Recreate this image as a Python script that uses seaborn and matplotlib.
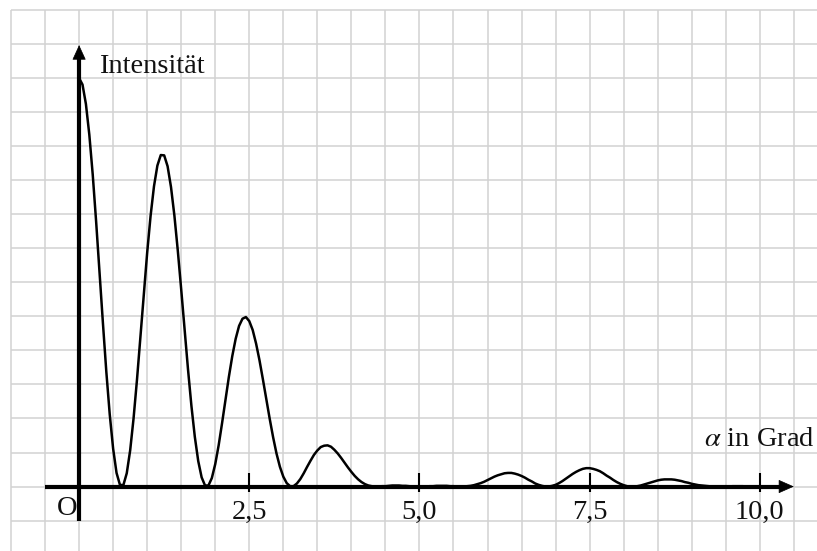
import matplotlib
matplotlib.use("Agg")
import matplotlib.pyplot as plt
import seaborn as sns
import pandas as pd

# ---- data ----
alpha_deg = [
    0.0, 0.05, 0.1, 0.15, 0.2, 0.25, 0.3, 0.35, 0.4, 0.45,
    0.5, 0.55, 0.6, 0.65, 0.7, 0.75, 0.8, 0.85, 0.9, 0.95,
    1.0, 1.05, 1.1, 1.15, 1.2, 1.25, 1.3, 1.35, 1.4, 1.45,
    1.5, 1.55, 1.6, 1.65, 1.7, 1.75, 1.8, 1.85, 1.9, 1.95,
    2.0, 2.05, 2.1, 2.15, 2.2, 2.25, 2.3, 2.35, 2.4, 2.45,
    2.5, 2.55, 2.6, 2.65, 2.7, 2.75, 2.8, 2.85, 2.9, 2.95,
    3.0, 3.05, 3.1, 3.15, 3.2, 3.25, 3.3, 3.35, 3.4, 3.45,
    3.5, 3.55, 3.6, 3.65, 3.7, 3.75, 3.8, 3.85, 3.9, 3.95,
    4.0, 4.05, 4.1, 4.15, 4.2, 4.25, 4.3, 4.35, 4.4, 4.45,
    4.5, 4.55, 4.6, 4.65, 4.7, 4.75, 4.8, 4.85, 4.9, 4.95,
    5.0, 5.05, 5.1, 5.15, 5.2, 5.25, 5.3, 5.35, 5.4, 5.45,
    5.5, 5.55, 5.6, 5.65, 5.7, 5.75, 5.8, 5.85, 5.9, 5.95,
    6.0, 6.05, 6.1, 6.15, 6.2, 6.25, 6.3, 6.35, 6.4, 6.45,
    6.5, 6.55, 6.6, 6.65, 6.7, 6.75, 6.8, 6.85, 6.9, 6.95,
    7.0, 7.05, 7.1, 7.15, 7.2, 7.25, 7.3, 7.35, 7.4, 7.45,
    7.5, 7.55, 7.6, 7.65, 7.7, 7.75, 7.8, 7.85, 7.9, 7.95,
    8.0, 8.05, 8.1, 8.15, 8.2, 8.25, 8.3, 8.35, 8.4, 8.45,
    8.5, 8.55, 8.6, 8.65, 8.7, 8.75, 8.8, 8.85, 8.9, 8.95,
    9.0, 9.05, 9.1, 9.15, 9.2, 9.25, 9.3, 9.35, 9.4, 9.45,
    9.5, 9.55, 9.6, 9.65, 9.7, 9.75, 9.8, 9.85, 9.9, 9.95,
    10.0,
]
intensity = [
    12, 11.81, 11.24, 10.34, 9.17, 7.79, 6.3, 4.8, 3.37, 2.12,
    1.11, 0.4, 0.05, 0.04, 0.39, 1.06, 2, 3.13, 4.38, 5.65,
    6.87, 7.95, 8.82, 9.43, 9.74, 9.73, 9.41, 8.8, 7.96, 6.93,
    5.79, 4.6, 3.44, 2.37, 1.46, 0.75, 0.27, 0.03, 0.03, 0.25,
    0.66, 1.21, 1.86, 2.54, 3.22, 3.83, 4.34, 4.72, 4.93, 4.98,
    4.86, 4.6, 4.2, 3.71, 3.15, 2.57, 1.99, 1.45, 0.97, 0.58,
    0.29, 0.1, 0.01, 0.01, 0.09, 0.22, 0.39, 0.58, 0.76, 0.93,
    1.06, 1.16, 1.2, 1.21, 1.17, 1.08, 0.97, 0.84, 0.7, 0.56,
    0.43, 0.31, 0.21, 0.13, 0.07, 0.03, 0.01, 0, 0, 0.01,
    0.01, 0.02, 0.03, 0.03, 0.03, 0.02, 0.02, 0.01, 0, 0,
    0, 0, 0, 0.01, 0.01, 0.02, 0.02, 0.02, 0.02, 0.01,
    0.01, 0, 0, 0, 0.01, 0.02, 0.04, 0.07, 0.1, 0.14,
    0.19, 0.24, 0.29, 0.33, 0.36, 0.39, 0.4, 0.4, 0.38, 0.35,
    0.31, 0.26, 0.2, 0.15, 0.09, 0.05, 0.02, 0, 0, 0.02,
    0.05, 0.1, 0.16, 0.23, 0.3, 0.37, 0.43, 0.48, 0.52, 0.54,
    0.54, 0.52, 0.49, 0.45, 0.39, 0.32, 0.26, 0.19, 0.13, 0.08,
    0.04, 0.01, 0, 0, 0.01, 0.03, 0.06, 0.09, 0.12, 0.15,
    0.18, 0.2, 0.21, 0.21, 0.21, 0.2, 0.18, 0.16, 0.13, 0.11,
    0.08, 0.06, 0.04, 0.03, 0.02, 0.01, 0, 0, 0, 0,
    0, 0, 0.01, 0.01, 0.01, 0.01, 0, 0, 0, 0,
    0,
]
tick_values = [2.5, 5.0, 7.5, 10.0]
tick_labels = ["2,5", "5,0", "7,5", "10,0"]
y_label = "Intensität"
x_label = r"$\alpha$ in Grad"
origin_label = "O"

# ---- style ----
sns.set_theme(style="white")
plt.rcParams["font.family"] = ["Liberation Serif", "DejaVu Serif"]
plt.rcParams["mathtext.fontset"] = "stix"

fig = plt.figure(figsize=(8.17, 5.51), dpi=100)
ax = fig.add_axes([0, 0, 1, 1])
ax.set_xlim(-1.162, 10.84)
ax.set_ylim(-1.894, 14.295)
ax.axis("off")

grid_col = "#d2d2d2"
# squared paper: 0.5 deg per square horizontally, 1 unit per square vertically
gx = [-1.0 + 0.5 * i for i in range(25)]
gy = [-2 + i for i in range(17)]
ax.vlines(gx, -2.5, 14.0, colors=grid_col, lw=1.1, zorder=0)
ax.hlines(gy, -1.0, 11.5, colors=grid_col, lw=1.1, zorder=0)

df = pd.DataFrame({"alpha": alpha_deg, "I": intensity})
sns.lineplot(data=df, x="alpha", y="I", color="black", lw=1.8, ax=ax,
             sort=False, zorder=3)

# axes with arrows
ax.plot([-0.5, 10.3], [0, 0], color="black", lw=3.0, solid_capstyle="butt", zorder=4)
ax.plot([0, 0], [-1.0, 12.7], color="black", lw=3.0, solid_capstyle="butt", zorder=4)
ax.annotate("", xy=(10.5, 0), xytext=(10.0, 0),
            arrowprops=dict(arrowstyle="-|>,head_length=0.5,head_width=0.22",
                            mutation_scale=20, lw=0.5, color="black",
                            shrinkA=0, shrinkB=0), zorder=5)
ax.annotate("", xy=(0, 12.97), xytext=(0, 12.0),
            arrowprops=dict(arrowstyle="-|>,head_length=0.48,head_width=0.22",
                            mutation_scale=20, lw=0.5, color="black",
                            shrinkA=0, shrinkB=0), zorder=5)

# ticks
ax.vlines(tick_values, -0.16, 0.40, colors="black", lw=1.5, zorder=5)
for v, lab in zip(tick_values, tick_labels):
    ax.text(v, -0.95, lab, ha="center", va="baseline", fontsize=20.5, color="#111111")

ax.text(-0.03, -0.83, origin_label, ha="right", va="baseline", fontsize=20.5, color="#111111")
ax.text(0.29, 12.14, y_label, ha="left", va="baseline", fontsize=20.5, color="#111111")
ax.text(10.81, 1.2, x_label, ha="right", va="baseline", fontsize=20.5, color="#111111")

fig.savefig("out.png", dpi=100, facecolor="white")
